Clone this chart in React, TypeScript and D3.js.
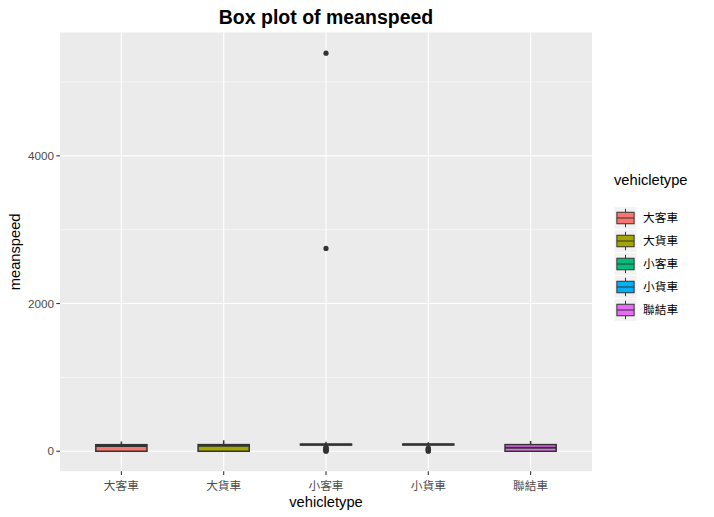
import React from "react";
import * as d3 from "d3";

const categories = ["大客車", "大貨車", "小客車", "小貨車", "聯結車"];
const colors = ["#F8766D", "#A3A500", "#00BF7D", "#00B0F6", "#E76BF3"];
// [lowerWhisker, q1, median, q3, upperWhisker]
const boxStats = [
  [0, 0, 72, 89, 132],
  [0, 0, 75, 90, 148],
  [62, 84, 90, 96, 128],
  [64, 86, 92, 97, 122],
  [0, 0, 47, 90, 140],
];
const outliers = [
  [],
  [],
  [0, 6, 12, 20, 28, 36, 45, 55, 2747, 5390],
  [0, 8, 16, 25, 34, 44],
  [],
];
const yTicks = [0, 2000, 4000];
const yMinor = [1000, 3000, 5000];
const yDataRange = [0, 5400];

const W = 714, H = 517;
const panel = { left: 60, right: 592, top: 32.5, bottom: 471.2 };

export default function App() {
  const span = yDataRange[1] - yDataRange[0];
  const y = d3.scaleLinear()
    .domain([yDataRange[0] - span * 0.05, yDataRange[1] + span * 0.05])
    .range([panel.bottom, panel.top]);
  const x = d3.scaleBand()
    .domain(categories)
    .range([panel.left, panel.right])
    .paddingOuter(0.1)
    .paddingInner(0);
  const step = x.step();
  const cx = (c: string) => (x(c) as number) + x.bandwidth() / 2;
  const boxW = step * 0.5;
  const lw = 1.5;
  const stroke = "#333333";
  const font = "'Liberation Sans', Arial, sans-serif";
  const cjk = "'Noto Sans CJK TC', 'Noto Sans CJK SC', sans-serif";

  const keyTop = 206.5, keyH = 23, keyX = 614, keyW = 23;

  return (
    <svg width={W} height={H} style={{ position: "absolute", left: 0, top: 0 }}>
      <rect x={0} y={0} width={W} height={H} fill="white" />
      <rect x={panel.left} y={panel.top} width={panel.right - panel.left} height={panel.bottom - panel.top} fill="#EBEBEB" />
      {yMinor.map((t) => (
        <line key={"m" + t} x1={panel.left} x2={panel.right} y1={y(t)} y2={y(t)} stroke="white" strokeWidth={0.55} />
      ))}
      {yTicks.map((t) => (
        <line key={"g" + t} x1={panel.left} x2={panel.right} y1={y(t)} y2={y(t)} stroke="white" strokeWidth={1.1} />
      ))}
      {categories.map((c) => (
        <line key={"v" + c} x1={cx(c)} x2={cx(c)} y1={panel.top} y2={panel.bottom} stroke="white" strokeWidth={1.1} />
      ))}
      {categories.map((c, i) => {
        const [lo, q1, med, q3, hi] = boxStats[i];
        const xc = cx(c);
        return (
          <g key={"b" + c}>
            <line x1={xc} x2={xc} y1={y(hi)} y2={y(q3)} stroke={stroke} strokeWidth={lw} />
            <line x1={xc} x2={xc} y1={y(q1)} y2={y(lo)} stroke={stroke} strokeWidth={lw} />
            <rect x={xc - boxW / 2} y={y(q3)} width={boxW} height={Math.max(0, y(q1) - y(q3))} fill={colors[i]} stroke={stroke} strokeWidth={lw} />
            <line x1={xc - boxW / 2} x2={xc + boxW / 2} y1={y(med)} y2={y(med)} stroke={stroke} strokeWidth={2} />
            {outliers[i].map((v, j) => (
              <circle key={j} cx={xc} cy={y(v)} r={2.6} fill={stroke} />
            ))}
          </g>
        );
      })}
      {/* y axis */}
      {yTicks.map((t) => (
        <g key={"yt" + t}>
          <line x1={panel.left - 3.7} x2={panel.left} y1={y(t)} y2={y(t)} stroke={stroke} strokeWidth={1.07} />
          <text x={panel.left - 6} y={y(t)} dy="0.35em" textAnchor="end" fontFamily={font} fontSize={11.7} fill="#4D4D4D">{t}</text>
        </g>
      ))}
      {/* x axis */}
      {categories.map((c) => (
        <g key={"xt" + c}>
          <line x1={cx(c)} x2={cx(c)} y1={panel.bottom} y2={panel.bottom + 3.7} stroke={stroke} strokeWidth={1.07} />
          <text x={cx(c)} y={panel.bottom + 18.5} textAnchor="middle" fontFamily={cjk} fontSize={11.7} fill="#4D4D4D">{c}</text>
        </g>
      ))}
      <text x={(panel.left + panel.right) / 2} y={507} textAnchor="middle" fontFamily={font} fontSize={14.7} fill="black">vehicletype</text>
      <text transform={`translate(20,${(panel.top + panel.bottom) / 2}) rotate(-90)`} textAnchor="middle" fontFamily={font} fontSize={14.7} fill="black">meanspeed</text>
      <text x={(panel.left + panel.right) / 2} y={24} textAnchor="middle" fontFamily={font} fontWeight="bold" fontSize={19.5} fill="black">Box plot of meanspeed</text>
      {/* legend */}
      <text x={keyX} y={185} fontFamily={font} fontSize={14.7} fill="black">vehicletype</text>
      {categories.map((c, i) => {
        const top = keyTop + i * keyH;
        const xc = keyX + keyW / 2;
        return (
          <g key={"l" + c}>
            <rect x={keyX} y={top} width={keyW} height={keyH} fill="#F2F2F2" stroke="white" strokeWidth={1} />
            <line x1={xc} x2={xc} y1={top + keyH * 0.1} y2={top + keyH * 0.25} stroke={stroke} strokeWidth={1} />
            <line x1={xc} x2={xc} y1={top + keyH * 0.75} y2={top + keyH * 0.9} stroke={stroke} strokeWidth={1} />
            <rect x={keyX + keyW * 0.125} y={top + keyH * 0.25} width={keyW * 0.75} height={keyH * 0.5} fill={colors[i]} stroke={stroke} strokeWidth={1} />
            <line x1={keyX + keyW * 0.125} x2={keyX + keyW * 0.875} y1={top + keyH * 0.5} y2={top + keyH * 0.5} stroke={stroke} strokeWidth={1} />
            <text x={643} y={top + keyH / 2} dy="0.35em" fontFamily={cjk} fontSize={11.7} fill="black">{c}</text>
          </g>
        );
      })}
    </svg>
  );
}
